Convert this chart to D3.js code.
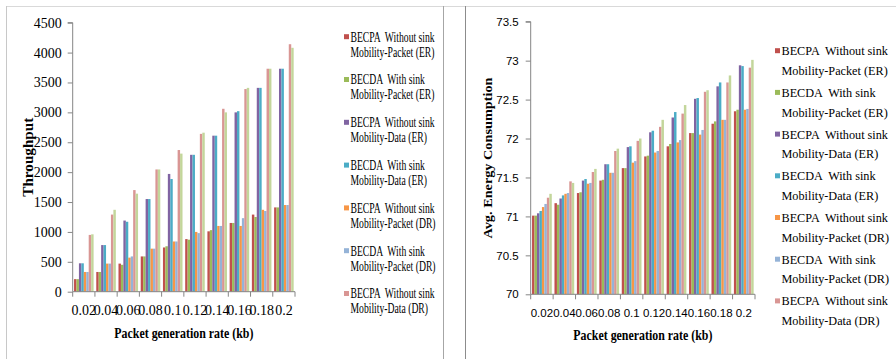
<!DOCTYPE html>
<html><head><meta charset="utf-8">
<script src="https://cdn.jsdelivr.net/npm/d3@7"></script>
<style>
html,body{margin:0;padding:0;background:#fff;}
svg{display:block;}
</style></head>
<body>
<svg id="c" width="896" height="359"></svg>
<script>
const categories = ["0.02","0.04","0.06","0.08","0.1","0.12","0.14","0.16","0.18","0.2"];
const seriesNames = [
  ["BECPA  Without sink","Mobility-Packet (ER)"],
  ["BECDA  With sink","Mobility-Packet (ER)"],
  ["BECPA  Without sink","Mobility-Data (ER)"],
  ["BECDA  With sink","Mobility-Data (ER)"],
  ["BECPA  Without sink","Mobility-Packet (DR)"],
  ["BECDA  With sink","Mobility-Packet (DR)"],
  ["BECPA  Without sink","Mobility-Data (DR)"],
  ["BECDA  With sink","Mobility-Data (DR)"]
];
const legendCount = 7; // last series not shown in legend
const colors = ["#C0504D","#9BBB59","#8064A2","#4BACC6","#F79646","#95B3D7","#D99694","#C3D69B"];

// Throughput (left chart)
const thrBecpaPacketER = [210,330,470,590,740,880,1010,1150,1290,1410];
const thrBecdaPacketER = [210,330,450,590,760,870,1030,1150,1250,1410];
const thrBecpaDataER   = [475,780,1190,1550,1970,2290,2610,3000,3410,3730];
const thrBecdaDataER   = [475,780,1170,1550,1885,2290,2610,3020,3410,3730];
const thrBecpaPacketDR = [330,470,570,720,840,1000,1100,1100,1370,1450];
const thrBecdaPacketDR = [330,470,590,720,840,980,1100,1230,1350,1450];
const thrBecpaDataDR   = [950,1290,1700,2045,2370,2640,3060,3390,3730,4140];
const thrBecdaDataDR   = [960,1370,1640,2045,2310,2660,3000,3410,3730,4080];
const thrTicks = [0,500,1000,1500,2000,2500,3000,3500,4000,4500];

// Avg. energy consumption (right chart)
const engBecpaPacketER = [71.01,71.17,71.30,71.46,71.62,71.77,71.90,72.07,72.19,72.35];
const engBecdaPacketER = [71.01,71.15,71.31,71.47,71.62,71.78,71.93,72.07,72.22,72.37];
const engBecpaDataER   = [71.04,71.23,71.46,71.67,71.89,72.08,72.27,72.51,72.67,72.94];
const engBecdaDataER   = [71.07,71.27,71.48,71.67,71.90,72.10,72.34,72.52,72.72,72.93];
const engBecpaPacketDR = [71.12,71.29,71.42,71.56,71.69,71.82,71.95,72.05,72.24,72.37];
const engBecdaPacketDR = [71.16,71.30,71.43,71.56,71.71,71.84,71.98,72.11,72.24,72.38];
const engBecpaDataDR   = [71.24,71.45,71.57,71.84,71.97,72.15,72.32,72.60,72.72,72.91];
const engBecdaDataDR   = [71.29,71.43,71.61,71.87,72.00,72.24,72.43,72.62,72.81,73.01];
const engTicks = [70,70.5,71,71.5,72,72.5,73,73.5];

const thrSeries = [thrBecpaPacketER,thrBecdaPacketER,thrBecpaDataER,thrBecdaDataER,thrBecpaPacketDR,thrBecdaPacketDR,thrBecpaDataDR,thrBecdaDataDR];
const engSeries = [engBecpaPacketER,engBecdaPacketER,engBecpaDataER,engBecdaDataER,engBecpaPacketDR,engBecdaPacketDR,engBecpaDataDR,engBecdaDataDR];

const svg = d3.select("#c");
const AX = "#868686";

// panel frames
svg.append("line").attr("x1",6).attr("x2",896).attr("y1",6.5).attr("y2",6.5).attr("stroke","#d9d9d9");
svg.append("line").attr("x1",6.5).attr("x2",6.5).attr("y1",6).attr("y2",359).attr("stroke","#c8c8c8");
svg.append("line").attr("x1",443.5).attr("x2",443.5).attr("y1",6).attr("y2",359).attr("stroke","#a6a6a6");
svg.append("line").attr("x1",465.5).attr("x2",465.5).attr("y1",6).attr("y2",359).attr("stroke","#8c8c8c");

function drawChart(cfg){
  const g = svg.append("g");
  const x0 = d3.scaleBand().domain(categories).range([cfg.x0,cfg.x1]).paddingInner(0.12).paddingOuter(0.06);
  const x1 = d3.scaleBand().domain(d3.range(cfg.series.length)).range([0,x0.bandwidth()]);
  const y = d3.scaleLinear().domain(cfg.domain).range([cfg.yb,cfg.yt]);
  const xi = d3.scaleLinear().domain([0,categories.length]).range([cfg.x0,cfg.x1]);

  // bars
  cfg.series.forEach((vals,si)=>{
    g.append("g").selectAll("rect").data(vals).join("rect")
      .attr("x",(d,i)=>x0(categories[i])+x1(si))
      .attr("width",x1.bandwidth())
      .attr("y",d=>y(d))
      .attr("height",d=>y(cfg.domain[0])-y(d))
      .attr("fill",colors[si]);
  });

  // y axis
  const ya = g.append("g").attr("transform",`translate(${cfg.x0},0)`)
    .call(d3.axisLeft(y).tickValues(cfg.ticks).tickSize(5).tickPadding(cfg.tickPad).tickFormat(d=>String(d)));
  ya.selectAll("path,line").attr("stroke",AX);
  ya.select(".domain").attr("d",`M-5,${cfg.yt}H0V${cfg.yb}`);
  ya.selectAll("text").attr("font-family",cfg.tickFont).attr("font-size",cfg.yTickSize).attr("fill","#000");

  // x axis
  const xa = g.append("g").attr("transform",`translate(0,${cfg.yb})`)
    .call(d3.axisBottom(x0).tickSize(0).tickPadding(cfg.xTickPad));
  xa.select(".domain").attr("stroke",AX).attr("d",`M${cfg.x0},0H${cfg.x1}`);
  xa.selectAll("text").attr("font-family",cfg.tickFont).attr("font-size",cfg.xTickSize).attr("fill","#000");
  g.append("g").selectAll("line").data(d3.range(categories.length+1)).join("line")
    .attr("x1",d=>xi(d)).attr("x2",d=>xi(d)).attr("y1",cfg.yb).attr("y2",cfg.yb+5).attr("stroke",AX);

  // axis titles
  g.append("text").attr("x",(cfg.x0+cfg.x1)/2).attr("y",cfg.xTitleY).attr("text-anchor","middle")
    .attr("font-family","Liberation Serif").attr("font-weight","bold").attr("font-size",14)
    .attr("textLength",139).attr("lengthAdjust","spacingAndGlyphs")
    .text("Packet generation rate (kb)");
  g.append("text").attr("transform",`translate(${cfg.yTitleX},${(cfg.yt+cfg.yb)/2}) rotate(-90)`)
    .attr("text-anchor","middle").attr("dy","0.35em")
    .attr("font-family","Liberation Serif").attr("font-weight","bold").attr("font-size",cfg.yTitleSize)
    .attr("textLength",cfg.yTitleLen).attr("lengthAdjust","spacingAndGlyphs")
    .text(cfg.yTitle);

  // legend
  const lg = g.append("g");
  d3.range(legendCount).forEach(i=>{
    const cy = cfg.legY + i*cfg.legStep;
    lg.append("rect").attr("x",cfg.legX).attr("y",cy-2.5).attr("width",5).attr("height",5).attr("fill",colors[i]);
    seriesNames[i].forEach((line,li)=>{
      const t = lg.append("text").attr("x",cfg.legX+6.5).attr("y",cy+li*cfg.legLine).attr("dy","0.35em")
        .attr("font-family","Liberation Serif").attr("font-size",cfg.legSize).attr("fill","#000")
        .style("white-space","pre").text(line);
      const w = t.node().getComputedTextLength();
      t.attr("textLength",w*cfg.legScale).attr("lengthAdjust","spacingAndGlyphs");
    });
  });
}

drawChart({
  series: thrSeries, domain:[0,4500], ticks: thrTicks,
  x0:72.7, x1:295, yb:291.7, yt:22.7,
  tickFont:"Liberation Serif", yTickSize:14, xTickSize:14, tickPad:6, xTickPad:13,
  xTitleY:338, yTitleX:28, yTitle:"Throughput", yTitleSize:14, yTitleLen:79,
  legX:344, legY:36.7, legStep:42.8, legLine:15, legSize:14, legScale:0.69
});
drawChart({
  series: engSeries, domain:[70,73.5], ticks: engTicks,
  x0:530.7, x1:755, yb:294.3, yt:21.7,
  tickFont:"Liberation Sans", yTickSize:11.5, xTickSize:11.5, tickPad:7, xTickPad:15,
  xTitleY:340, yTitleX:487.5, yTitle:"Avg.  Energy  Consumption", yTitleSize:13, yTitleLen:161,
  legX:775, legY:50.7, legStep:41.7, legLine:19.7, legSize:13, legScale:0.94
});
</script>
</body></html>
